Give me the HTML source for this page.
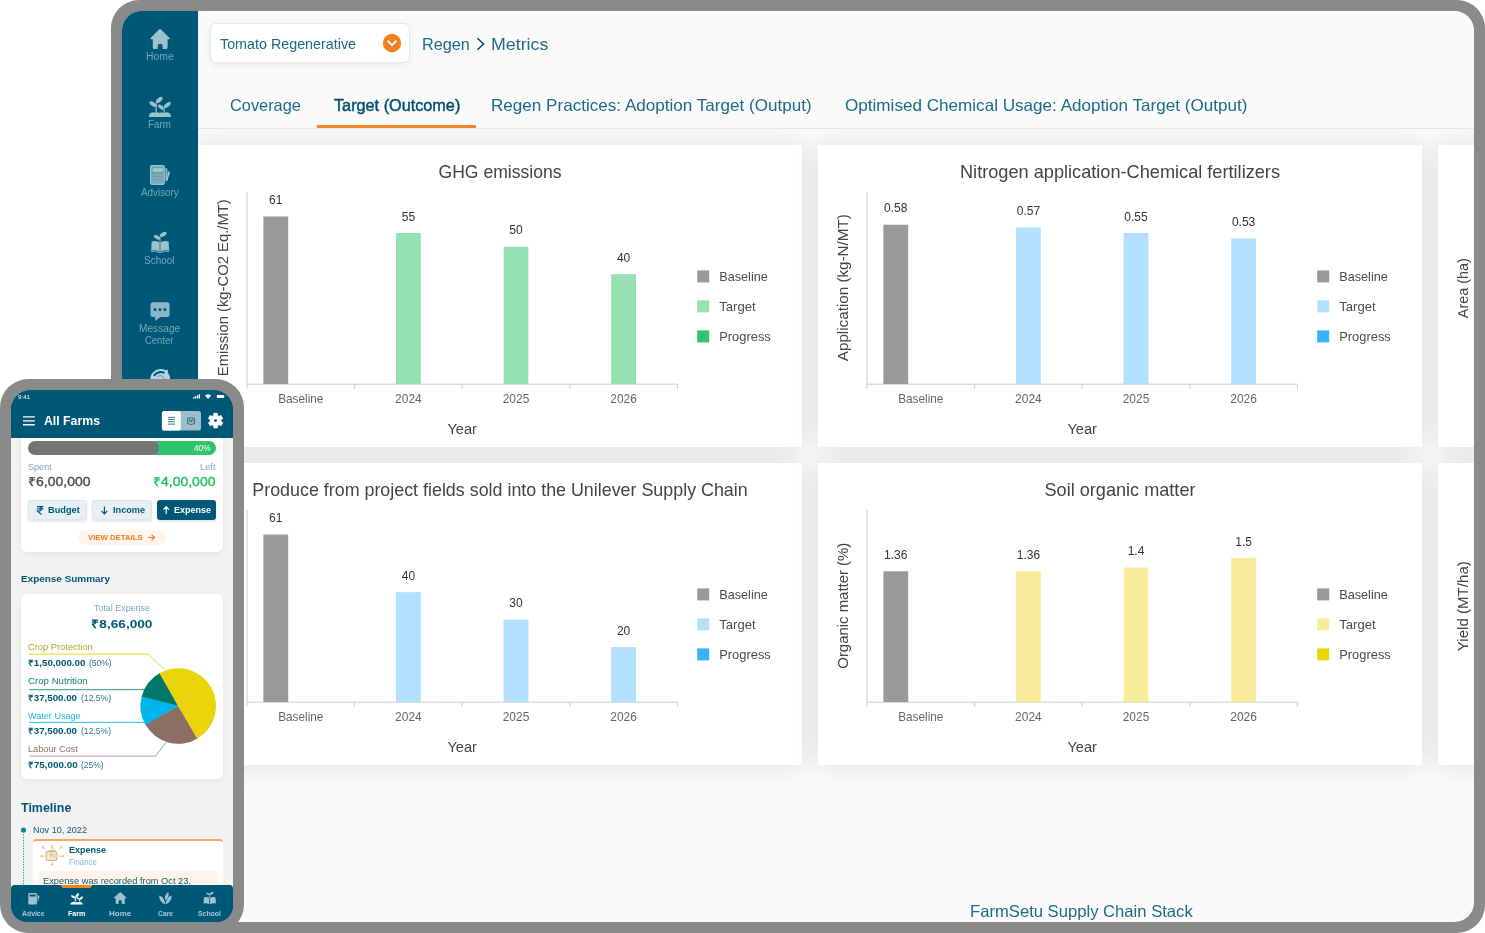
<!DOCTYPE html>
<html lang="en"><head><meta charset="utf-8"><title>FarmSetu Supply Chain Stack</title>
<style>
*{box-sizing:border-box}
html,body{margin:0;padding:0}
html,body{width:1485px;height:933px;background:#fff}
body{font-family:'Liberation Sans',sans-serif}
#root{position:relative;width:1485px;height:933px;overflow:hidden;background:#fff}
.t{position:absolute;white-space:nowrap;height:40px;line-height:40px;transform-origin:0 50%}
#tablet{position:absolute;left:111px;top:0;width:1374px;height:933px;background:#8a8a8a;border-radius:28px}
#screen{position:absolute;left:11px;top:11px;width:1352px;height:911px;border-radius:19.5px;background:#fafafa;overflow:hidden}
#sb{position:absolute;left:0;top:0;width:76px;height:911px;background:#005878}
.sbl{left:0;width:76px;text-align:center;font-size:10px;line-height:14px;height:14px;color:#74a5b8;letter-spacing:-0.2px}
#main{position:absolute;left:76px;top:0;width:1276px;height:911px}
#dd{position:absolute;left:12px;top:12px;width:200px;height:40px;background:#fff;border:1px solid #e0e8f0;border-radius:6px;box-shadow:0 2px 6px rgba(0,40,80,.07)}
#tabline{position:absolute;left:0;top:117px;width:1276px;height:1.2px;background:#dfe6ec}
#tabsel{position:absolute;left:118.5px;top:114.2px;width:159.5px;height:2.6px;background:#f6872c}
#cards{position:absolute;left:0;top:118.2px;width:1276px;height:793px;overflow:hidden}
.card{position:absolute;width:604px;height:302px;background:#fff;box-shadow:0 0 24px rgba(0,0,0,.11)}
.card svg{display:block}

#phone{position:absolute;left:0;top:379px;width:244px;height:554px;background:#8a8a8a;border-radius:28.5px}
#ps{position:absolute;left:11px;top:11px;width:222px;height:532px;border-radius:20px 20px 16.5px 16.5px;background:#005878;overflow:hidden}
#pp{position:absolute;left:-11px;top:-390px;width:1485px;height:933px}
#pp>div,#pp>svg{position:absolute}
#phead{left:11px;top:390px;width:222px;height:47.7px;background:#005878}
.pcard{background:#fff;box-shadow:0 2px 5px rgba(0,0,0,.06)}
.pbtn{border-radius:2.5px;background:#e7f0f4;border:1px solid #dbe7ed;box-shadow:0 1.5px 2.5px rgba(0,40,60,.10)}
#pnav{left:11px;top:884.9px;width:222px;height:37.2px;background:#005878;border-radius:3.5px 3.5px 0 0}
</style></head>
<body>
<div id="root">
<div id="tablet"><div id="screen">
<div id="main">
<div id="dd"></div>
<div class="t" style="left:21.56px;top:12.77px;font-size:15px;font-weight:400;color:#1c6b88;transform:scaleX(0.9541);font-family:'Liberation Sans',sans-serif;">Tomato Regenerative</div>
<svg style="position:absolute;left:183.8px;top:22.0px" width="20" height="20" viewBox="0 0 20 20"><circle cx="10" cy="10" r="9.2" fill="#f0811e"/><path d="M6.1 8.3 L10 12.1 L13.9 8.3" fill="none" stroke="#fff" stroke-width="2" stroke-linecap="round" stroke-linejoin="round"/></svg>
<div class="t" style="left:223.55px;top:13.39px;font-size:16.5px;font-weight:400;color:#1c6b88;transform:scaleX(0.9843);font-family:'Liberation Sans',sans-serif;">Regen</div>
<svg style="position:absolute;left:277.4px;top:24.6px" width="12" height="16" viewBox="0 0 12 16"><path d="M2.4 2.2 L8.6 8 L2.4 13.8" fill="none" stroke="#00506f" stroke-width="1.5"/></svg>
<div class="t" style="left:293.22px;top:13.39px;font-size:16.5px;font-weight:400;color:#1c6b88;transform:scaleX(1.0775);font-family:'Liberation Sans',sans-serif;">Metrics</div>
<div class="t" style="left:31.92px;top:74.39px;font-size:16.5px;font-weight:400;color:#1c6b88;transform:scaleX(0.9910);font-family:'Liberation Sans',sans-serif;">Coverage</div>
<div class="t" style="left:135.92px;top:74.39px;font-size:16.5px;font-weight:400;color:#00506f;transform:scaleX(0.9839);font-family:'Liberation Sans',sans-serif;-webkit-text-stroke:0.45px #00506f;">Target (Outcome)</div>
<div class="t" style="left:293.48px;top:74.39px;font-size:16.5px;font-weight:400;color:#1c6b88;transform:scaleX(1.0355);font-family:'Liberation Sans',sans-serif;">Regen Practices: Adoption Target (Output)</div>
<div class="t" style="left:646.74px;top:74.39px;font-size:16.5px;font-weight:400;color:#1c6b88;transform:scaleX(1.0359);font-family:'Liberation Sans',sans-serif;">Optimised Chemical Usage: Adoption Target (Output)</div>
<div id="tabline"></div><div id="tabsel"></div>
<div class="t" style="left:771.92px;top:880.19px;font-size:16.5px;font-weight:400;color:#1c6b88;transform:scaleX(1.0077);font-family:'Liberation Sans',sans-serif;">FarmSetu Supply Chain Stack</div>
<div id="cards">
<div class="card" style="left:0px;top:15.6px">
<svg width="604" height="302" viewBox="0 0 604 302" font-family="'Liberation Sans',sans-serif">
<text x="302.00" y="33.40" font-size="18.54" fill="#444" text-anchor="middle" font-weight="400" textLength="123.00" lengthAdjust="spacingAndGlyphs">GHG emissions</text>
<text transform="translate(29.6,142.7) rotate(-90)" font-size="15.4" fill="#444" text-anchor="middle" textLength="177.0" lengthAdjust="spacingAndGlyphs">Emission (kg-CO2 Eq./MT)</text>
<path d="M49.0 47.0 V243.79999999999998 M49.0 239.2 H479.4 M156.60 239.2 v4.6 M264.20 239.2 v4.6 M371.80 239.2 v4.6 M479.40 239.2 v4.6" stroke="#ccc" stroke-width="1" fill="none"/>
<rect x="65.40" y="71.51" width="24.8" height="167.49" fill="#999999"/>
<text x="77.80" y="59.21" font-size="12" fill="#333" text-anchor="middle" font-weight="400">61</text>
<text x="102.80" y="258.20" font-size="12.36" fill="#666" text-anchor="middle" font-weight="400" textLength="45.20" lengthAdjust="spacingAndGlyphs">Baseline</text>
<rect x="198.00" y="87.99" width="24.8" height="151.01" fill="#95e1b1"/>
<text x="210.40" y="75.69" font-size="12" fill="#333" text-anchor="middle" font-weight="400">55</text>
<text x="210.40" y="258.20" font-size="12.36" fill="#666" text-anchor="middle" font-weight="400" textLength="26.60" lengthAdjust="spacingAndGlyphs">2024</text>
<rect x="305.60" y="101.71" width="24.8" height="137.29" fill="#95e1b1"/>
<text x="318.00" y="89.41" font-size="12" fill="#333" text-anchor="middle" font-weight="400">50</text>
<text x="318.00" y="258.20" font-size="12.36" fill="#666" text-anchor="middle" font-weight="400" textLength="26.60" lengthAdjust="spacingAndGlyphs">2025</text>
<rect x="413.20" y="129.17" width="24.8" height="109.83" fill="#95e1b1"/>
<text x="425.60" y="116.87" font-size="12" fill="#333" text-anchor="middle" font-weight="400">40</text>
<text x="425.60" y="258.20" font-size="12.36" fill="#666" text-anchor="middle" font-weight="400" textLength="26.60" lengthAdjust="spacingAndGlyphs">2026</text>
<text x="264.20" y="289.40" font-size="15.45" fill="#444" text-anchor="middle" font-weight="400" textLength="29.50" lengthAdjust="spacingAndGlyphs">Year</text>
<rect x="499.2" y="125.4" width="12" height="12" fill="#999999"/>
<text x="521.20" y="136.00" font-size="13.39" fill="#4c4c4c" text-anchor="start" font-weight="400" textLength="48.60" lengthAdjust="spacingAndGlyphs">Baseline</text>
<rect x="499.2" y="155.4" width="12" height="12" fill="#95e1b1"/>
<text x="521.20" y="166.00" font-size="13.39" fill="#4c4c4c" text-anchor="start" font-weight="400" textLength="36.40" lengthAdjust="spacingAndGlyphs">Target</text>
<rect x="499.2" y="185.4" width="12" height="12" fill="#2fc36d"/>
<text x="521.20" y="196.00" font-size="13.39" fill="#4c4c4c" text-anchor="start" font-weight="400" textLength="51.60" lengthAdjust="spacingAndGlyphs">Progress</text>
</svg></div>
<div class="card" style="left:620px;top:15.6px">
<svg width="604" height="302" viewBox="0 0 604 302" font-family="'Liberation Sans',sans-serif">
<text x="302.00" y="33.40" font-size="18.54" fill="#444" text-anchor="middle" font-weight="400" textLength="320.00" lengthAdjust="spacingAndGlyphs">Nitrogen application-Chemical fertilizers</text>
<text transform="translate(29.6,142.7) rotate(-90)" font-size="15.4" fill="#444" text-anchor="middle" textLength="147.0" lengthAdjust="spacingAndGlyphs">Application (kg-N/MT)</text>
<path d="M49.0 47.0 V243.79999999999998 M49.0 239.2 H479.4 M156.60 239.2 v4.6 M264.20 239.2 v4.6 M371.80 239.2 v4.6 M479.40 239.2 v4.6" stroke="#ccc" stroke-width="1" fill="none"/>
<rect x="65.40" y="79.75" width="24.8" height="159.25" fill="#999999"/>
<text x="77.80" y="67.45" font-size="12" fill="#333" text-anchor="middle" font-weight="400">0.58</text>
<text x="102.80" y="258.20" font-size="12.36" fill="#666" text-anchor="middle" font-weight="400" textLength="45.20" lengthAdjust="spacingAndGlyphs">Baseline</text>
<rect x="198.00" y="82.49" width="24.8" height="156.51" fill="#b2e0ff"/>
<text x="210.40" y="70.19" font-size="12" fill="#333" text-anchor="middle" font-weight="400">0.57</text>
<text x="210.40" y="258.20" font-size="12.36" fill="#666" text-anchor="middle" font-weight="400" textLength="26.60" lengthAdjust="spacingAndGlyphs">2024</text>
<rect x="305.60" y="87.99" width="24.8" height="151.01" fill="#b2e0ff"/>
<text x="318.00" y="75.69" font-size="12" fill="#333" text-anchor="middle" font-weight="400">0.55</text>
<text x="318.00" y="258.20" font-size="12.36" fill="#666" text-anchor="middle" font-weight="400" textLength="26.60" lengthAdjust="spacingAndGlyphs">2025</text>
<rect x="413.20" y="93.48" width="24.8" height="145.52" fill="#b2e0ff"/>
<text x="425.60" y="81.18" font-size="12" fill="#333" text-anchor="middle" font-weight="400">0.53</text>
<text x="425.60" y="258.20" font-size="12.36" fill="#666" text-anchor="middle" font-weight="400" textLength="26.60" lengthAdjust="spacingAndGlyphs">2026</text>
<text x="264.20" y="289.40" font-size="15.45" fill="#444" text-anchor="middle" font-weight="400" textLength="29.50" lengthAdjust="spacingAndGlyphs">Year</text>
<rect x="499.2" y="125.4" width="12" height="12" fill="#999999"/>
<text x="521.20" y="136.00" font-size="13.39" fill="#4c4c4c" text-anchor="start" font-weight="400" textLength="48.60" lengthAdjust="spacingAndGlyphs">Baseline</text>
<rect x="499.2" y="155.4" width="12" height="12" fill="#b2e0ff"/>
<text x="521.20" y="166.00" font-size="13.39" fill="#4c4c4c" text-anchor="start" font-weight="400" textLength="36.40" lengthAdjust="spacingAndGlyphs">Target</text>
<rect x="499.2" y="185.4" width="12" height="12" fill="#38b1ff"/>
<text x="521.20" y="196.00" font-size="13.39" fill="#4c4c4c" text-anchor="start" font-weight="400" textLength="51.60" lengthAdjust="spacingAndGlyphs">Progress</text>
</svg></div>
<div class="card" style="left:0px;top:333.9px">
<svg width="604" height="302" viewBox="0 0 604 302" font-family="'Liberation Sans',sans-serif">
<text x="302.00" y="33.40" font-size="18.54" fill="#444" text-anchor="middle" font-weight="400" textLength="495.40" lengthAdjust="spacingAndGlyphs">Produce from project fields sold into the Unilever Supply Chain</text>
<text transform="translate(29.6,142.7) rotate(-90)" font-size="15.4" fill="#444" text-anchor="middle" textLength="0.0" lengthAdjust="spacingAndGlyphs"></text>
<path d="M49.0 47.0 V243.79999999999998 M49.0 239.2 H479.4 M156.60 239.2 v4.6 M264.20 239.2 v4.6 M371.80 239.2 v4.6 M479.40 239.2 v4.6" stroke="#ccc" stroke-width="1" fill="none"/>
<rect x="65.40" y="71.51" width="24.8" height="167.49" fill="#999999"/>
<text x="77.80" y="59.21" font-size="12" fill="#333" text-anchor="middle" font-weight="400">61</text>
<text x="102.80" y="258.20" font-size="12.36" fill="#666" text-anchor="middle" font-weight="400" textLength="45.20" lengthAdjust="spacingAndGlyphs">Baseline</text>
<rect x="198.00" y="129.17" width="24.8" height="109.83" fill="#b2e0ff"/>
<text x="210.40" y="116.87" font-size="12" fill="#333" text-anchor="middle" font-weight="400">40</text>
<text x="210.40" y="258.20" font-size="12.36" fill="#666" text-anchor="middle" font-weight="400" textLength="26.60" lengthAdjust="spacingAndGlyphs">2024</text>
<rect x="305.60" y="156.63" width="24.8" height="82.37" fill="#b2e0ff"/>
<text x="318.00" y="144.33" font-size="12" fill="#333" text-anchor="middle" font-weight="400">30</text>
<text x="318.00" y="258.20" font-size="12.36" fill="#666" text-anchor="middle" font-weight="400" textLength="26.60" lengthAdjust="spacingAndGlyphs">2025</text>
<rect x="413.20" y="184.09" width="24.8" height="54.91" fill="#b2e0ff"/>
<text x="425.60" y="171.79" font-size="12" fill="#333" text-anchor="middle" font-weight="400">20</text>
<text x="425.60" y="258.20" font-size="12.36" fill="#666" text-anchor="middle" font-weight="400" textLength="26.60" lengthAdjust="spacingAndGlyphs">2026</text>
<text x="264.20" y="289.40" font-size="15.45" fill="#444" text-anchor="middle" font-weight="400" textLength="29.50" lengthAdjust="spacingAndGlyphs">Year</text>
<rect x="499.2" y="125.4" width="12" height="12" fill="#999999"/>
<text x="521.20" y="136.00" font-size="13.39" fill="#4c4c4c" text-anchor="start" font-weight="400" textLength="48.60" lengthAdjust="spacingAndGlyphs">Baseline</text>
<rect x="499.2" y="155.4" width="12" height="12" fill="#b2e0ff"/>
<text x="521.20" y="166.00" font-size="13.39" fill="#4c4c4c" text-anchor="start" font-weight="400" textLength="36.40" lengthAdjust="spacingAndGlyphs">Target</text>
<rect x="499.2" y="185.4" width="12" height="12" fill="#38b1ff"/>
<text x="521.20" y="196.00" font-size="13.39" fill="#4c4c4c" text-anchor="start" font-weight="400" textLength="51.60" lengthAdjust="spacingAndGlyphs">Progress</text>
</svg></div>
<div class="card" style="left:620px;top:333.9px">
<svg width="604" height="302" viewBox="0 0 604 302" font-family="'Liberation Sans',sans-serif">
<text x="302.00" y="33.40" font-size="18.54" fill="#444" text-anchor="middle" font-weight="400" textLength="151.00" lengthAdjust="spacingAndGlyphs">Soil organic matter</text>
<text transform="translate(29.6,142.7) rotate(-90)" font-size="15.4" fill="#444" text-anchor="middle" textLength="126.0" lengthAdjust="spacingAndGlyphs">Organic matter (%)</text>
<path d="M49.0 47.0 V243.79999999999998 M49.0 239.2 H479.4 M156.60 239.2 v4.6 M264.20 239.2 v4.6 M371.80 239.2 v4.6 M479.40 239.2 v4.6" stroke="#ccc" stroke-width="1" fill="none"/>
<rect x="65.40" y="108.30" width="24.8" height="130.70" fill="#999999"/>
<text x="77.80" y="96.00" font-size="12" fill="#333" text-anchor="middle" font-weight="400">1.36</text>
<text x="102.80" y="258.20" font-size="12.36" fill="#666" text-anchor="middle" font-weight="400" textLength="45.20" lengthAdjust="spacingAndGlyphs">Baseline</text>
<rect x="198.00" y="108.30" width="24.8" height="130.70" fill="#f8ec9c"/>
<text x="210.40" y="96.00" font-size="12" fill="#333" text-anchor="middle" font-weight="400">1.36</text>
<text x="210.40" y="258.20" font-size="12.36" fill="#666" text-anchor="middle" font-weight="400" textLength="26.60" lengthAdjust="spacingAndGlyphs">2024</text>
<rect x="305.60" y="104.46" width="24.8" height="134.54" fill="#f8ec9c"/>
<text x="318.00" y="92.16" font-size="12" fill="#333" text-anchor="middle" font-weight="400">1.4</text>
<text x="318.00" y="258.20" font-size="12.36" fill="#666" text-anchor="middle" font-weight="400" textLength="26.60" lengthAdjust="spacingAndGlyphs">2025</text>
<rect x="413.20" y="94.85" width="24.8" height="144.15" fill="#f8ec9c"/>
<text x="425.60" y="82.55" font-size="12" fill="#333" text-anchor="middle" font-weight="400">1.5</text>
<text x="425.60" y="258.20" font-size="12.36" fill="#666" text-anchor="middle" font-weight="400" textLength="26.60" lengthAdjust="spacingAndGlyphs">2026</text>
<text x="264.20" y="289.40" font-size="15.45" fill="#444" text-anchor="middle" font-weight="400" textLength="29.50" lengthAdjust="spacingAndGlyphs">Year</text>
<rect x="499.2" y="125.4" width="12" height="12" fill="#999999"/>
<text x="521.20" y="136.00" font-size="13.39" fill="#4c4c4c" text-anchor="start" font-weight="400" textLength="48.60" lengthAdjust="spacingAndGlyphs">Baseline</text>
<rect x="499.2" y="155.4" width="12" height="12" fill="#f8ec9c"/>
<text x="521.20" y="166.00" font-size="13.39" fill="#4c4c4c" text-anchor="start" font-weight="400" textLength="36.40" lengthAdjust="spacingAndGlyphs">Target</text>
<rect x="499.2" y="185.4" width="12" height="12" fill="#ecd405"/>
<text x="521.20" y="196.00" font-size="13.39" fill="#4c4c4c" text-anchor="start" font-weight="400" textLength="51.60" lengthAdjust="spacingAndGlyphs">Progress</text>
</svg></div>
<div class="card" style="left:1240px;top:15.6px"><svg width="604" height="302" viewBox="0 0 604 302" font-family="'Liberation Sans',sans-serif"><text transform="translate(29.8,143.2) rotate(-90)" font-size="15.4" fill="#444" text-anchor="middle" textLength="60" lengthAdjust="spacingAndGlyphs">Area (ha)</text></svg></div>
<div class="card" style="left:1240px;top:333.9px"><svg width="604" height="302" viewBox="0 0 604 302" font-family="'Liberation Sans',sans-serif"><text transform="translate(29.8,143.2) rotate(-90)" font-size="15.4" fill="#444" text-anchor="middle" textLength="90" lengthAdjust="spacingAndGlyphs">Yield (MT/ha)</text></svg></div>
</div>
</div>
<div id="sb">
<svg width="76" height="911" viewBox="122 11 76 911" style="position:absolute;left:0;top:0" fill="#9cc0cc">
<path d="M160 29.1 Q160.5 29.1 161 29.6 L169.6 37.9 Q170.3 38.9 169.2 39.2 L167.6 39.2 L167.6 47.8 Q167.6 48.9 166.5 48.9 L162.6 48.9 L162.6 46 Q162.6 43.7 160.2 43.7 Q157.7 43.7 157.7 46 L157.7 48.9 L153.9 48.9 Q152.8 48.9 152.8 47.8 L152.8 39.2 L151 39.2 Q149.9 38.9 150.6 37.9 L159 29.6 Q159.5 29.1 160 29.1 Z"/>
<g><path d="M148.8 117.1 Q148.9 113.4 152.2 112.5 Q154.4 112 155.9 113 Q157.8 111.7 159.8 112.9 Q161.8 111.7 163.8 112.9 Q165.8 112 167.8 112.5 Q171 113.4 171.1 117.1 Z"/><rect x="155.4" y="103.4" width="1.5" height="9.6" opacity=".8"/><rect x="163.5" y="107.4" width="1.4" height="5.6" opacity=".8"/><ellipse cx="153" cy="104.1" rx="4" ry="1.9" transform="rotate(32 153 104.1)"/><ellipse cx="159.2" cy="99.9" rx="4.1" ry="2" transform="rotate(-42 159.2 99.9)"/><ellipse cx="161" cy="107.1" rx="3.5" ry="1.7" transform="rotate(36 161 107.1)"/><ellipse cx="167.3" cy="104.9" rx="4" ry="1.9" transform="rotate(-38 167.3 104.9)"/></g>
<g><rect x="150" y="165.1" width="14.9" height="19.8" rx="1.8"/><rect x="151.3" y="166.6" width="12.3" height="16.8" rx=".8" fill="#6c9fb4"/><rect x="152.6" y="168.2" width="10.6" height="3.6" rx="1.2" fill="#a6c7d2"/><rect x="151.3" y="174.6" width="12.3" height=".9" fill="#8fb7c6"/><rect x="151.3" y="177.6" width="12.3" height=".9" fill="#8fb7c6"/><rect x="151.3" y="180.2" width="12.3" height="3.2" fill="#7eaabc"/><path d="M165.4 168 L167.4 168.6 L167.4 179.4 L165.4 181.4 Z" fill="#8fb7c6"/><path d="M168.2 171.2 L170 172.2 L167.6 180.2 L166.2 181.6 Z" fill="#a6c7d2"/></g>
<g><path d="M159.4 242.2 Q155.6 240.4 151.6 241.4 L151.2 250.6 Q155.6 249.8 159.4 251.4 Z M160.6 242.2 Q164.4 240.4 168.6 241.4 L169.2 250.6 Q164.6 249.8 160.6 251.4 Z"/><path d="M150.8 251.4 Q155.6 250.6 160 252.6 Q164.4 250.6 169.4 251.4" fill="none" stroke="#8fb7c6" stroke-width=".9"/><rect x="159.4" y="237.4" width="1.2" height="14.6" opacity=".75"/><ellipse cx="157" cy="237.3" rx="3.5" ry="1.7" transform="rotate(28 157 237.3)"/><ellipse cx="163.2" cy="234.4" rx="3.8" ry="1.9" transform="rotate(-32 163.2 234.4)"/></g>
<g><path fill="#8cb5c5" d="M153 302.3 L167.1 302.3 Q169.6 302.3 169.6 304.8 L169.6 314.4 Q169.6 316.9 167.1 316.9 L160.4 316.9 L155.2 321 L155 316.9 L153 316.9 Q150.5 316.9 150.5 314.4 L150.5 304.8 Q150.5 302.3 153 302.3 Z"/><circle cx="155" cy="309.6" r="1.5" fill="#005878"/><circle cx="159.95" cy="309.6" r="1.5" fill="#005878"/><circle cx="164.9" cy="309.6" r="1.5" fill="#005878"/></g>
<g><path d="M150.2 380 Q150.4 372.6 156.6 369.8 Q161.6 368 165.8 370.2 L167.6 369.4 L168 372.6 Q170 375.4 170.2 380 Z" fill="#b3d3dd"/><path d="M153.8 375.8 Q158.4 370.4 164.6 372.8" fill="none" stroke="#005878" stroke-width="1.9"/><path d="M157.6 376.6 Q160.4 374.6 162.4 376.4 L164.6 378.8" fill="none" stroke="#4d8aa2" stroke-width=".9"/></g>
</svg>
<div class="t" style="left:23.84px;top:25.81px;font-size:10px;font-weight:400;color:#74a5b8;transform:scaleX(1.0372);font-family:'Liberation Sans',sans-serif;">Home</div>
<div class="t" style="left:26.24px;top:93.91px;font-size:10px;font-weight:400;color:#74a5b8;transform:scaleX(0.9766);font-family:'Liberation Sans',sans-serif;">Farm</div>
<div class="t" style="left:18.95px;top:161.52px;font-size:10px;font-weight:400;color:#74a5b8;transform:scaleX(0.9848);font-family:'Liberation Sans',sans-serif;">Advisory</div>
<div class="t" style="left:22.49px;top:229.81px;font-size:10px;font-weight:400;color:#74a5b8;transform:scaleX(0.9968);font-family:'Liberation Sans',sans-serif;">School</div>
<div class="t" style="left:17.01px;top:297.81px;font-size:10px;font-weight:400;color:#74a5b8;transform:scaleX(1.0163);font-family:'Liberation Sans',sans-serif;">Message</div>
<div class="t" style="left:23.45px;top:310.12px;font-size:10px;font-weight:400;color:#74a5b8;transform:scaleX(0.9416);font-family:'Liberation Sans',sans-serif;">Center</div>
</div>
</div></div>
<div id="phone"><div id="ps"><div id="pp">
<div style="left:11px;top:430px;width:222px;height:460px;background:#f2f2f2"></div>
<div class="pcard" style="left:21px;top:420px;width:202px;height:132px;border-radius:6px"></div>
<div style="left:140px;top:441.3px;width:76px;height:13.4px;border-radius:7px;background:#2dc56a"></div>
<div style="left:28.2px;top:441.3px;width:131px;height:13.4px;border-radius:7px;background:#757575"></div>
<div class="t" style="left:193.58px;top:428.40px;font-size:8.6px;font-weight:400;color:#fff;transform:scaleX(0.9600);font-family:'Liberation Sans',sans-serif;">40%</div>
<div class="t" style="left:28.24px;top:446.70px;font-size:8.4px;font-weight:400;color:#78a9bd;transform:scaleX(1.0828);font-family:'Liberation Sans',sans-serif;">Spent</div>
<div class="t" style="left:199.60px;top:446.70px;font-size:8.4px;font-weight:400;color:#78a9bd;transform:scaleX(1.1098);font-family:'Liberation Sans',sans-serif;">Left</div>
<div class="t" style="left:27.96px;top:461.74px;font-size:12.2px;font-weight:400;color:#484848;transform:scaleX(1.1508);font-family:'Liberation Sans',sans-serif;-webkit-text-stroke:0.3px #484848;">₹6,00,000</div>
<div class="t" style="left:152.96px;top:461.74px;font-size:12.2px;font-weight:400;color:#13c255;transform:scaleX(1.1470);font-family:'Liberation Sans',sans-serif;-webkit-text-stroke:0.3px #13c255;">₹4,00,000</div>
<div class="pbtn" style="left:28.2px;top:500.2px;width:59.2px;height:19.8px"></div>
<div class="pbtn" style="left:92.4px;top:500.2px;width:59.2px;height:19.8px"></div>
<div class="pbtn" style="left:156.8px;top:500.2px;width:59.2px;height:19.8px;background:#005878;border-color:#005878"></div>
<div class="t" style="left:48.48px;top:491.49px;font-size:8.2px;font-weight:700;color:#005878;transform:scaleX(1.1248);font-family:'Liberation Sans',sans-serif;">Budget</div>
<div class="t" style="left:112.68px;top:491.49px;font-size:8.2px;font-weight:700;color:#005878;transform:scaleX(1.1198);font-family:'Liberation Sans',sans-serif;">Income</div>
<div class="t" style="left:174.49px;top:491.49px;font-size:8.2px;font-weight:700;color:#fff;transform:scaleX(1.1015);font-family:'Liberation Sans',sans-serif;">Expense</div>
<svg style="left:0;top:0" width="244" height="933" viewBox="0 0 244 933" fill="none"><path d="M37 506.6 H43.4 M37 508.9 H43.4 M37.2 506.6 H39 Q41.6 506.8 41.4 508.9 Q41.2 511 38.6 511 H37.4 L41.6 514.6" stroke="#005878" stroke-width="1.15"/><path d="M104.4 506.6 V513.8 M101.6 511 L104.4 513.9 L107.2 511" stroke="#005878" stroke-width="1.15"/><path d="M166.2 514 V506.8 M163.4 509.6 L166.2 506.7 L169 509.6" stroke="#fff" stroke-width="1.15"/><path d="M148.2 537.5 H154.4 M151.6 534.6 L154.5 537.5 L151.6 540.4" stroke="#f07b1f" stroke-width="1.1"/></svg>
<div style="left:78px;top:529.9px;width:88px;height:15px;border-radius:7.5px;background:#fff5ec"></div>
<div class="t" style="left:87.90px;top:517.69px;font-size:7.6px;font-weight:700;color:#f07b1f;transform:scaleX(1.0226);font-family:'Liberation Sans',sans-serif;">VIEW DETAILS</div>
<svg style="left:0;top:0" width="244" height="933" viewBox="0 0 244 933" fill="none"><path d="M148.2 537.5 H154.4 M151.6 534.6 L154.5 537.5 L151.6 540.4" stroke="#f07b1f" stroke-width="1.1"/></svg>
<div id="phead"></div>
<div class="t" style="left:18.42px;top:377.46px;font-size:5.6px;font-weight:400;color:#fff;transform:scaleX(1.1041);font-family:'Liberation Sans',sans-serif;">9:41</div>
<div class="t" style="left:44.01px;top:400.94px;font-size:12.4px;font-weight:700;color:#fff;transform:scaleX(0.9914);font-family:'Liberation Sans',sans-serif;">All Farms</div>
<svg style="left:0;top:0" width="244" height="933" viewBox="0 0 244 933"><path d="M23 416.9 H34.8 M23 420.8 H34.8 M23 424.7 H34.8" stroke="#fff" stroke-width="1.35"/><path d="M193 398.4 v-1.3 h1.35 v1.3z M194.9 398.4 v-2.1 h1.35 v2.1z M196.8 398.4 v-3.1 h1.35 v3.1z M198.7 398.4 v-4.2 h1.35 v4.2z" fill="#fff"/><path d="M204.9 395.7 Q208.05 392.9 211.2 395.7 L208.05 398.9 Z" fill="#fff" opacity=".88"/><rect x="216.8" y="395" width="7.2" height="3" rx=".8" fill="#fff"/><rect x="224.3" y="395.9" width=".7" height="1.2" fill="#fff" opacity=".6"/><rect x="161.9" y="410.9" width="39.1" height="19.7" rx="2.6" fill="#9dbfcc"/><rect x="161.9" y="410.9" width="18.9" height="19.7" rx="2.6" fill="#fff"/><path d="M167.9 417.4 H175 M167.9 419.4 H175" stroke="#2a6d89" stroke-width=".9"/><path d="M167.9 421.7 H175 M167.9 424.1 H175" stroke="#5d93a9" stroke-width="1.3"/><path d="M187.6 418.4 L189.4 417.8 M192.6 417.8 L194.5 418.4 V423.5 L191.05 424.5 L187.6 423.5 V418.2" fill="none" stroke="#2a6d89" stroke-width=".95"/><circle cx="191.05" cy="419.7" r="2" fill="none" stroke="#2a6d89" stroke-width=".9"/><circle cx="191.05" cy="420.2" r=".8" fill="#1a5f7d"/></svg>
<svg style="left:0;top:0" width="244" height="933" viewBox="0 0 244 933"><path d="M213.81 413.32 L217.39 413.32 L217.41 415.41 L219.19 416.44 L221.01 415.41 L222.80 418.51 L221.00 419.57 L221.00 421.63 L222.80 422.69 L221.01 425.79 L219.19 424.76 L217.41 425.79 L217.39 427.88 L213.81 427.88 L213.79 425.79 L212.01 424.76 L210.19 425.79 L208.40 422.69 L210.20 421.63 L210.20 419.57 L208.40 418.51 L210.19 415.41 L212.01 416.44 L213.79 415.41 Z" fill="#fff" stroke="#fff" stroke-width="0.8" stroke-linejoin="round"/><circle cx="215.6" cy="420.6" r="1.45" fill="#005878"/></svg>
<div class="t" style="left:20.82px;top:558.90px;font-size:9.0px;font-weight:700;color:#005878;transform:scaleX(1.1045);font-family:'Liberation Sans',sans-serif;">Expense Summary</div>
<div class="pcard" style="left:21px;top:593.9px;width:202px;height:184.9px;border-radius:6px"></div>
<div class="t" style="left:94.30px;top:588.40px;font-size:8.3px;font-weight:400;color:#78a9bd;transform:scaleX(1.0719);font-family:'Liberation Sans',sans-serif;">Total Expense</div>
<div class="t" style="left:91.41px;top:603.53px;font-size:11.5px;font-weight:700;color:#005878;transform:scaleX(1.1872);font-family:'Liberation Sans',sans-serif;">₹8,66,000</div>
<div class="t" style="left:28.22px;top:626.80px;font-size:8.6px;font-weight:400;color:#b3a62a;transform:scaleX(1.0845);font-family:'Liberation Sans',sans-serif;">Crop Protection</div>
<div class="t" style="left:28.22px;top:643.00px;font-size:8.4px;font-weight:700;color:#005878;transform:scaleX(1.1658);font-family:'Liberation Sans',sans-serif;">₹1,50,000.00</div>
<div class="t" style="left:89.15px;top:643.00px;font-size:8.4px;font-weight:400;color:#2d7591;transform:scaleX(1.0160);font-family:'Liberation Sans',sans-serif;">(50%)</div>
<div class="t" style="left:28.21px;top:661.40px;font-size:8.6px;font-weight:400;color:#0f806d;transform:scaleX(1.1248);font-family:'Liberation Sans',sans-serif;">Crop Nutrition</div>
<div class="t" style="left:28.23px;top:677.50px;font-size:8.4px;font-weight:700;color:#005878;transform:scaleX(1.1576);font-family:'Liberation Sans',sans-serif;">₹37,500.00</div>
<div class="t" style="left:80.84px;top:677.50px;font-size:8.4px;font-weight:400;color:#2d7591;transform:scaleX(1.0260);font-family:'Liberation Sans',sans-serif;">(12.5%)</div>
<div class="t" style="left:28.48px;top:696.20px;font-size:8.6px;font-weight:400;color:#1fb0e6;transform:scaleX(1.0558);font-family:'Liberation Sans',sans-serif;">Water Usage</div>
<div class="t" style="left:28.23px;top:710.80px;font-size:8.4px;font-weight:700;color:#005878;transform:scaleX(1.1576);font-family:'Liberation Sans',sans-serif;">₹37,500.00</div>
<div class="t" style="left:80.84px;top:710.80px;font-size:8.4px;font-weight:400;color:#2d7591;transform:scaleX(1.0260);font-family:'Liberation Sans',sans-serif;">(12.5%)</div>
<div class="t" style="left:27.80px;top:729.40px;font-size:8.6px;font-weight:400;color:#8b6f68;transform:scaleX(1.0661);font-family:'Liberation Sans',sans-serif;">Labour Cost</div>
<div class="t" style="left:28.22px;top:745.20px;font-size:8.4px;font-weight:700;color:#005878;transform:scaleX(1.1770);font-family:'Liberation Sans',sans-serif;">₹75,000.00</div>
<div class="t" style="left:81.25px;top:745.20px;font-size:8.4px;font-weight:400;color:#2d7591;transform:scaleX(1.0160);font-family:'Liberation Sans',sans-serif;">(25%)</div>
<svg style="left:0;top:0" width="244" height="933" viewBox="0 0 244 933" fill="none"><path d="M28.9 654.05 H148.7" stroke="#f3e679" stroke-width="1.7"/><path d="M148.4 654.4 L164.8 669.6" stroke="#ecd82a" stroke-width="1"/><path d="M29 689.6 H145" stroke="#5aa99b" stroke-width="1.2"/><path d="M29 722.4 H146" stroke="#4dc9f1" stroke-width="1.2"/><path d="M29.6 756.1 H155.6 L166.4 741.8" stroke="#b39c96" stroke-width="1"/><path d="M178.25 706.0 L197.72 738.40 A37.8 37.8 0 0 1 145.19 724.33 Z" fill="#8c6e63"/><path d="M178.25 706.0 L145.51 724.90 A37.8 37.8 0 0 1 141.82 695.90 Z" fill="#00b5ec"/><path d="M178.25 706.0 L141.65 696.54 A37.8 37.8 0 0 1 159.92 672.94 Z" fill="#02786b"/><path d="M178.25 706.0 L159.35 673.26 A37.8 37.8 0 0 1 197.15 738.74 Z" fill="#ead50d"/></svg>
<div class="t" style="left:21.33px;top:787.74px;font-size:12.0px;font-weight:700;color:#005878;transform:scaleX(1.0385);font-family:'Liberation Sans',sans-serif;">Timeline</div>
<div class="t" style="left:33.29px;top:810.30px;font-size:8.6px;font-weight:400;color:#0b5a78;transform:scaleX(1.0555);font-family:'Liberation Sans',sans-serif;">Nov 10, 2022</div>
<div style="left:33.1px;top:839.3px;width:190px;height:60px;background:#fff;border-top:2.5px solid #f9a862;border-radius:3.5px 3.5px 0 0"></div>
<div style="left:38.1px;top:871.4px;width:180px;height:30px;background:#fff3ea;border-radius:2px"></div>
<div class="t" style="left:68.89px;top:830.20px;font-size:8.4px;font-weight:700;color:#005878;transform:scaleX(1.0747);font-family:'Liberation Sans',sans-serif;">Expense</div>
<div class="t" style="left:68.91px;top:842.20px;font-size:8.4px;font-weight:400;color:#8ab5c7;transform:scaleX(0.9341);font-family:'Liberation Sans',sans-serif;">Finance</div>
<div class="t" style="left:42.99px;top:860.90px;font-size:8.6px;font-weight:400;color:#0b5a78;transform:scaleX(1.0798);font-family:'Liberation Sans',sans-serif;">Expense was recorded from Oct 23,</div>
<svg style="left:0;top:0" width="244" height="933" viewBox="0 0 244 933" fill="none"><circle cx="23.5" cy="830.1" r="2.6" fill="#0a8a97"/><path d="M23.5 834.4 V885" stroke="#2a9aa6" stroke-width="1" stroke-dasharray="1.3 1.4"/><rect x="46.2" y="851.6" width="10.6" height="8.8" rx="1" fill="#f3ead2" stroke="#c6a85e" stroke-width=".9"/><path d="M47 851.4 L54.6 849.8 L55.6 851.4" stroke="#c6a85e" stroke-width=".8"/><rect x="54.2" y="854.6" width="3.4" height="2.6" rx=".8" fill="#fff" stroke="#c6a85e" stroke-width=".7"/><path d="M50 853.8 h2.6 M50 855 h2.6 M50.2 853.8 q2 .2 1.6 1.4 q-.4 1 -1.6 .9 l1.6 1.9" stroke="#f5a05c" stroke-width=".6"/><g stroke="#f7a766" stroke-width=".8"><path d="M52.2 849 V845.6 M50.9 846.9 L52.2 845.5 L53.5 846.9"/><path d="M52.2 862.4 V865.6 M50.9 864.3 L52.2 865.7 L53.5 864.3"/><path d="M44.4 856.2 H40.4 M41.7 854.9 L40.3 856.2 L41.7 857.5"/><path d="M59.6 856.2 H63.8 M62.5 854.9 L63.9 856.2 L62.5 857.5"/><path d="M45.2 849.4 L42.4 846.8 M42.3 848.4 V846.7 H44"/><path d="M59 849.4 L61.8 846.8 M61.9 848.4 V846.7 H60.2"/></g></svg>
<div id="pnav"></div>
<div style="left:61px;top:884.9px;width:30.7px;height:3.3px;background:#f5851f;border-radius:0 0 3.5px 3.5px"></div>
<svg style="left:0;top:0" width="244" height="933" viewBox="0 0 244 933"><g fill="#9fc2ce"><path d="M29.2 893.1 H36 Q36.9 893.1 36.9 894 V903.5 Q36.9 904.4 36 904.4 H29.2 Q28.3 904.4 28.3 903.5 V894 Q28.3 893.1 29.2 893.1 Z M29.6 894.6 V896.4 H35.6 V894.6 Z" fill-rule="evenodd"/><path d="M37.6 894.6 L39.5 896.6 L37.6 902.4 Z"/></g><g fill="#fff"><path d="M70.2 904.5 Q70.6 902.4 72.6 902 Q74.4 901.6 75.4 902.4 Q76.6 901.6 77.8 902.4 Q79.2 901.6 80.6 902 Q82.6 902.4 82.8 904.5 Z"/><path d="M74.8 901.6 V898.2 Q71.4 898 70.9 895.2 Q74.4 895 75.3 897.4 Q75.2 894.2 78.9 893 Q79.4 896.6 75.9 897.6 L75.8 901.6 Z"/><path d="M79.2 901.6 V899.6 Q76.6 899.4 76.4 897.2 Q78.8 897 79.6 898.8 Q80 896.4 83 896.2 Q83 899.2 80.2 899.8 V901.6 Z"/></g><path fill="#9fc2ce" d="M120.2 891.9 L126.4 897.6 Q126.6 898.2 126 898.2 H124.7 V903.2 Q124.7 904 123.9 904 H121.8 V901.2 Q121.8 900.2 120.9 900.2 H119.5 Q118.6 900.2 118.6 901.2 V904 H116.5 Q115.7 904 115.7 903.2 V898.2 H114.4 Q113.8 898.2 114 897.6 Z"/><g fill="#9fc2ce"><path d="M165.4 904.2 Q159.6 902.6 159 895.4 Q162.6 896.2 163.6 899 Q164.6 900.6 165.4 904.2 Z"/><path d="M165.4 904.2 Q171.2 902.6 171.8 895.4 Q168.2 896.2 167.2 899 Q166.2 900.6 165.4 904.2 Z"/><path d="M165.4 900.6 Q163.2 896.4 168.2 892 Q170 896.4 165.4 900.6 Z"/></g><g fill="#9fc2ce"><path d="M209.3 897.8 Q206.8 896.6 204 897.2 L203.5 903.4 Q206.7 902.8 209.3 904.2 Z M210.1 897.8 Q212.6 896.6 215.4 897.2 L215.9 903.4 Q212.7 902.8 210.1 904.2 Z"/><path d="M209.3 898 V894.9 Q206.4 894.8 205.7 892.7 Q208.5 892.4 209.5 894.1 Q210 892.1 213.7 891.8 Q213.6 894.5 210.1 895.1 V898 Z"/></g></svg>
<div class="t" style="left:22.25px;top:893.99px;font-size:7.7px;font-weight:700;color:#a9c9d5;transform:scaleX(0.8915);font-family:'Liberation Sans',sans-serif;">Advice</div>
<div class="t" style="left:67.71px;top:893.99px;font-size:7.7px;font-weight:700;color:#fff;transform:scaleX(0.9256);font-family:'Liberation Sans',sans-serif;">Farm</div>
<div class="t" style="left:108.85px;top:893.99px;font-size:7.7px;font-weight:700;color:#a9c9d5;transform:scaleX(1.0374);font-family:'Liberation Sans',sans-serif;">Home</div>
<div class="t" style="left:157.73px;top:893.99px;font-size:7.7px;font-weight:700;color:#a9c9d5;transform:scaleX(0.8787);font-family:'Liberation Sans',sans-serif;">Care</div>
<div class="t" style="left:198.48px;top:893.99px;font-size:7.7px;font-weight:700;color:#a9c9d5;transform:scaleX(0.8932);font-family:'Liberation Sans',sans-serif;">School</div>
</div></div></div>
</div>
</body></html>
